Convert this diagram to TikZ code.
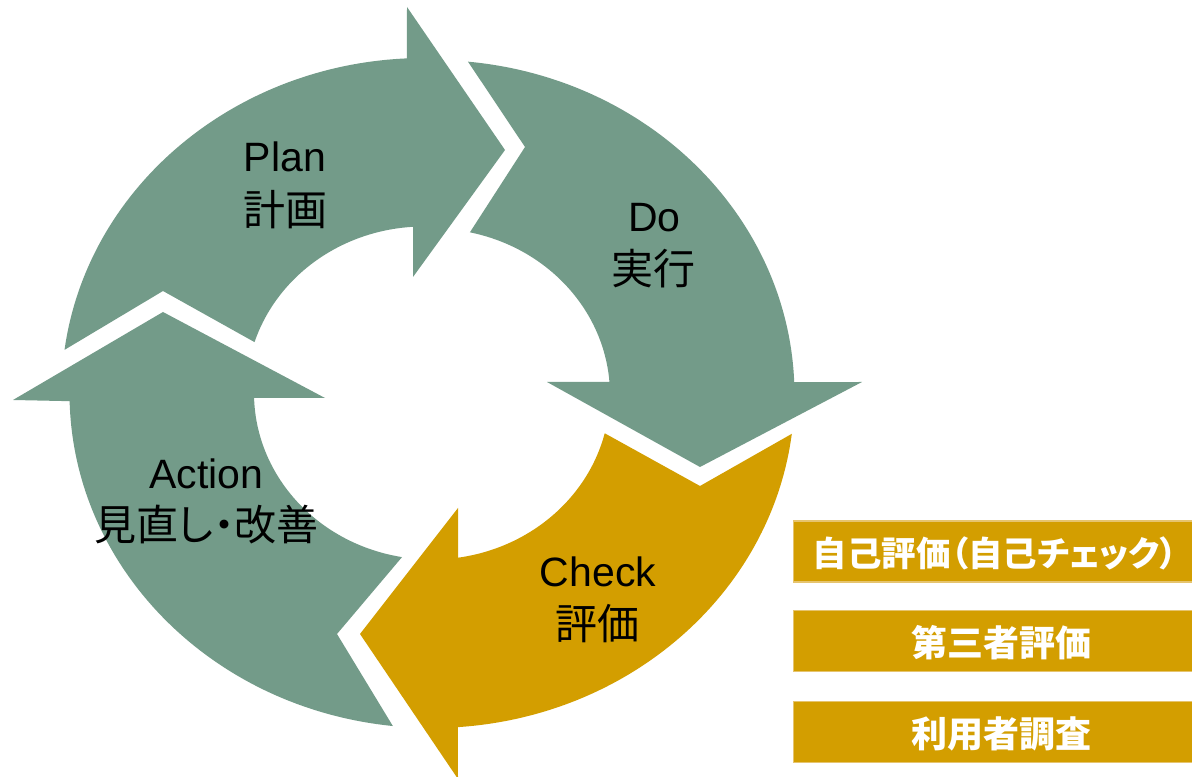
\documentclass[tikz,border=0pt]{standalone}
\usepackage{fontspec}
\setmainfont{Liberation Sans}
\newfontfamily\jp[RawFeature=+palt]{Noto Sans CJK JP}
\usetikzlibrary{calc}
\definecolor{pdgreen}{HTML}{739B89}
\definecolor{pdgold}{HTML}{D39E00}
\definecolor{pdedge}{HTML}{E6C46E}
\begin{document}
\begin{tikzpicture}[x=1bp,y=1bp,
  lblen/.style={inner sep=0pt, text=black, font=\fontsize{41bp}{50bp}\selectfont},
  lbljp/.style={inner sep=0pt, text=black, font=\jp\fontsize{42bp}{50bp}\selectfont},
  sidebox/.style={fill=pdgold, draw=pdedge, line width=1.5bp, minimum width=402bp, minimum height=61bp, anchor=west, inner sep=0pt},
  boxtext/.style={inner sep=0pt, text=white, font=\jp\bfseries\fontsize{36bp}{40bp}\selectfont}]
\useasboundingbox (0,0) rectangle (1192,777);
\coordinate (CP) at (424,384);
\coordinate (CD) at (432,382);
\coordinate (C) at (432,384);
% Plan
\fill[pdgreen] (CP) ++(172.6:362.5bp and 335bp) arc[start angle=172.6, end angle=92.7, x radius=362.5bp, y radius=335bp]
  -- (407,770) -- (505,627) -- (413,500)
  -- ($(CP)+(93.5:178bp and 166.5bp)$) arc[start angle=93.5, end angle=162.2, x radius=178bp, y radius=166.5bp]
  -- (163,486) -- cycle;
% Do
\fill[pdgreen] (CD) ++(84.3:362.5bp and 335bp) arc[start angle=84.3, end angle=2.2, x radius=362.5bp, y radius=335bp]
  -- (862,395) -- (700,310) -- (547,395)
  -- ($(CD)+(4.5:178bp and 166.5bp)$) arc[start angle=4.5, end angle=77.7, x radius=178bp, y radius=166.5bp]
  -- (525,630) -- cycle;
% Check
\fill[pdgold] (C) ++(-7:362.5bp and 335bp) arc[start angle=-7, end angle=-85.9, x radius=362.5bp, y radius=335bp]
  -- (458,-2) -- (360,143) -- (458,269)
  -- ($(C)+(-81.6:178bp and 166.5bp)$) arc[start angle=-81.6, end angle=-14, x radius=178bp, y radius=166.5bp]
  -- (700,291) -- cycle;
% Action
\fill[pdgreen] (C) ++(-96.2:362.5bp and 335bp) arc[start angle=-96.2, end angle=-178.6, x radius=362.5bp, y radius=335bp]
  -- (13,377) -- (163,465) -- (325,379)
  -- ($(C)+(-178.3:178bp and 166.5bp)$) arc[start angle=-178.3, end angle=-99.7, x radius=178bp, y radius=166.5bp]
  -- (337,143) -- cycle;
% labels
\node[lblen] (planen) at (285,620) {Plan};
\node[lbljp] (planjp) at (285,567.5) {計画};
\node[lblen] (doen) at (654.5,559) {Do};
\node[lbljp] (dojp) at (653,508) {実行};
\node[lblen] (acten) at (206.5,303) {Action};
\node[lbljp] (actjp) at (206.5,252) {見直し・改善};
\node[lblen] (chken) at (598,205) {Check};
\node[lbljp] (chkjp) at (597.5,153.5) {評価};
% side boxes
\node[sidebox] (box1) at (792.5,225.5) {};
\node[sidebox] (box2) at (792.5,136) {};
\node[sidebox] (box3) at (792.5,45) {};
\node[boxtext, font=\jp\bfseries\fontsize{34.5bp}{40bp}\selectfont] (box1t) at (995,224) {自己評価（自己チェック）};
\node[boxtext] (box2t) at (1001,134) {第三者評価};
\node[boxtext] (box3t) at (1001,43) {利用者調査};
\end{tikzpicture}
\end{document}
